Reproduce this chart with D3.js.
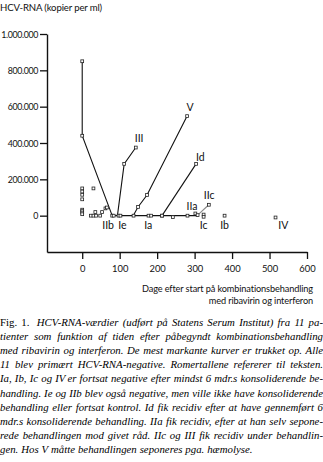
<!DOCTYPE html>
<html>
<head>
<meta charset="utf-8">
<script src="https://cdn.jsdelivr.net/npm/d3@7"></script>
<style>
  html, body { margin: 0; padding: 0; background: #fff; }
  svg { display: block; }
  .sans { font-family: Lato, "Open Sans", sans-serif; fill: #111; }
  .cap { font-family: "Liberation Serif", "DejaVu Serif", serif; fill: #000; }
</style>
</head>
<body>
<svg id="chart" width="323" height="462"></svg>
<script>
// HCV-RNA (copies/ml) against days after start of combination therapy
const yTicks = [0, 200000, 400000, 600000, 800000, 1000000];
const xTicks = [0, 100, 200, 300, 400, 500, 600];

// Single measurements that are not joined by a curve
const scatterDays   = [0, 0, 0, 0, 0, 0, 0, 0, 30, 23, 30, 37, 35, 48, 53, 62, 66];
const scatterValues = [150000, 133000, 115000, 90000, 33000, 25000, 17000, 8000,
                       150000, 0, 0, 0, 20000, 0, 20000, 40000, 45000];

// Patient courses drawn as polylines
const courseIIbDays   = [0, 0, 80];
const courseIIbValues = [850000, 440000, 0];
const courseZeroDays   = [80, 84, 97, 102, 137, 177, 184, 213, 242, 281, 310];
const courseZeroValues = [0, 0, 0, 0, 0, 0, 0, 0, -8000, 0, 0];
const courseIIIDays   = [94, 112, 143];
const courseIIIValues = [0, 285000, 375000];
const courseVDays     = [136, 149, 173, 280];
const courseVValues   = [0, 48000, 114000, 548000];
const courseIdDays    = [213, 304];
const courseIdValues  = [0, 285000];
const courseIIcDays   = [308, 338];
const courseIIcValues = [3000, 60000];

// Late isolated observations (IIa, Ic, Ib, IV)
const lateDays   = [302, 308, 324, 324, 380, 516];
const lateValues = [12000, 3000, 6000, -6000, 0, -10000];

// Roman-numeral patient labels, anchored in data units
const labelTexts  = ["IIb", "Ie", "Ia", "Ic", "Ib", "IV", "III", "V", "Id", "IIc", "IIa"];
const labelDays   = [69, 107, 176, 324, 380, 537, 152, 288, 315, 339, 293];
const labelValues = [-75000, -75000, -75000, -75000, -75000, -75000, 405000, 576000, 300000, 92000, 31000];

const captionLines = [
  "HCV-RNA-værdier (udført på Statens Serum Institut) fra 11 pa-",
  "tienter som funktion af tiden efter påbegyndt kombinationsbehandling",
  "med ribavirin og interferon. De mest markante kurver er trukket op. Alle",
  "11 blev primært HCV-RNA-negative. Romertallene refererer til teksten.",
  "Ia, Ib, Ic og IV er fortsat negative efter mindst 6 mdr.s konsoliderende be-",
  "handling. Ie og IIb blev også negative, men ville ikke have konsoliderende",
  "behandling eller fortsat kontrol. Id fik recidiv efter at have gennemført 6",
  "mdr.s konsoliderende behandling. IIa fik recidiv, efter at han selv sepone-",
  "rede behandlingen mod givet råd. IIc og III fik recidiv under behandlin-",
  "gen. Hos V måtte behandlingen seponeres pga. hæmolyse."
];

const svg = d3.select("#chart");

const x = d3.scaleLinear().domain([-94, 600]).range([47, 307]);
const y = d3.scaleLinear().domain([-200000, 1000000]).range([252, 34]);

const dk = d3.formatLocale({ decimal: ",", thousands: ".", grouping: [3], currency: ["", " kr."] });
const fmt = dk.format(",d");

// Y axis title
svg.append("text").attr("class", "sans")
  .attr("x", 0).attr("y", 10.5)
  .attr("font-size", 9.6)
  .attr("letter-spacing", -0.15)
  .text("HCV-RNA (kopier per ml)");

// Axes
const yAxis = svg.append("g").attr("transform", `translate(${x(-94)},0)`)
  .call(d3.axisLeft(y).tickValues(yTicks).tickFormat(fmt).tickSize(7).tickSizeOuter(0).tickPadding(2));
const xAxis = svg.append("g").attr("transform", `translate(0,${y(-200000)})`)
  .call(d3.axisBottom(x).tickValues(xTicks).tickFormat(d3.format("d")).tickSize(7).tickSizeOuter(0).tickPadding(6));

[yAxis, xAxis].forEach(g => {
  g.select(".domain").attr("stroke", "#111").attr("stroke-width", 1.4);
  g.selectAll(".tick line").attr("stroke", "#111").attr("stroke-width", 1.3);
  g.selectAll(".tick text").attr("class", "sans").attr("font-size", 9.4).attr("fill", "#111");
});
yAxis.selectAll(".tick text").attr("dy", "0.35em").attr("font-size", 8.8).attr("letter-spacing", -0.35);

// X axis title, right aligned
const xt = svg.append("text").attr("class", "sans").attr("font-size", 9.2)
  .attr("letter-spacing", -0.12).attr("text-anchor", "end");
xt.append("tspan").attr("x", 313).attr("y", 292).text("Dage efter start på kombinationsbehandling");
xt.append("tspan").attr("x", 313).attr("y", 303.5).text("med ribavirin og interferon");

// Course lines
const line = d3.line().x(d => x(d[0])).y(d => y(d[1]));
const courses = [
  [courseIIbDays, courseIIbValues, "#111"],
  [courseZeroDays, courseZeroValues.map(() => 0), "#111"],
  [courseIIIDays, courseIIIValues, "#111"],
  [courseVDays, courseVValues, "#111"],
  [courseIdDays, courseIdValues, "#111"],
  [courseIIcDays, courseIIcValues, "#888"]
];
courses.forEach(([ds, vs, col]) => {
  svg.append("path")
    .datum(ds.map((d, i) => [d, vs[i]]))
    .attr("d", line)
    .attr("fill", "none")
    .attr("stroke", col)
    .attr("stroke-width", 1.1);
});

// Open square markers for every measurement
const pts = [];
function addPts(ds, vs) { ds.forEach((d, i) => pts.push([d, vs[i]])); }
addPts(scatterDays, scatterValues);
addPts(courseIIbDays, courseIIbValues);
addPts(courseZeroDays.slice(1, -1), courseZeroValues.slice(1, -1));
addPts(courseIIIDays.slice(1), courseIIIValues.slice(1));
addPts(courseVDays.slice(1), courseVValues.slice(1));
addPts(courseIdDays, courseIdValues);
addPts([courseIIcDays[1]], [courseIIcValues[1]]);
addPts(lateDays, lateValues);

const s = 2.8;
svg.append("g").selectAll("rect").data(pts).join("rect")
  .attr("x", d => x(d[0]) - s / 2)
  .attr("y", d => y(d[1]) - s / 2)
  .attr("width", s).attr("height", s)
  .attr("fill", "#fff")
  .attr("stroke", "#222")
  .attr("stroke-width", 0.8);

// Patient labels
svg.append("g").selectAll("text").data(labelTexts).join("text")
  .attr("class", "sans")
  .attr("font-size", 10.5)
  .attr("text-anchor", "middle")
  .attr("x", (d, i) => x(labelDays[i]))
  .attr("y", (d, i) => y(labelValues[i]))
  .text(d => d);

// Caption, justified line by line
const capX0 = 0, capX1 = 323, capY0 = 326, capLead = 14.1, capSize = 10.8;
captionLines.forEach((ln, li) => {
  const t = svg.append("text").attr("class", "cap").attr("font-size", capSize)
    .attr("y", capY0 + li * capLead);
  const words = [];
  if (li === 0) {
    words.push({ w: "Fig.", it: false }, { w: "1.", it: false });
  }
  ln.split(" ").forEach(w => words.push({ w, it: true }));
  const spans = words.map(o => t.append("tspan")
    .attr("font-style", o.it ? "italic" : "normal")
    .text(o.w));
  const widths = spans.map(sp => sp.node().getComputedTextLength());
  const total = d3.sum(widths);
  const gaps = words.length - 1;
  const last = li === captionLines.length - 1;
  const extra = li === 0 ? 3 : 0;   // wider gap after "Fig. 1."
  const gap = last ? capSize * 0.27 : (capX1 - capX0 - total - extra) / gaps;
  let cx = capX0;
  spans.forEach((sp, i) => {
    sp.attr("x", cx);
    cx += widths[i] + gap + (li === 0 && i === 1 ? extra : 0);
  });
});
</script>
</body>
</html>
